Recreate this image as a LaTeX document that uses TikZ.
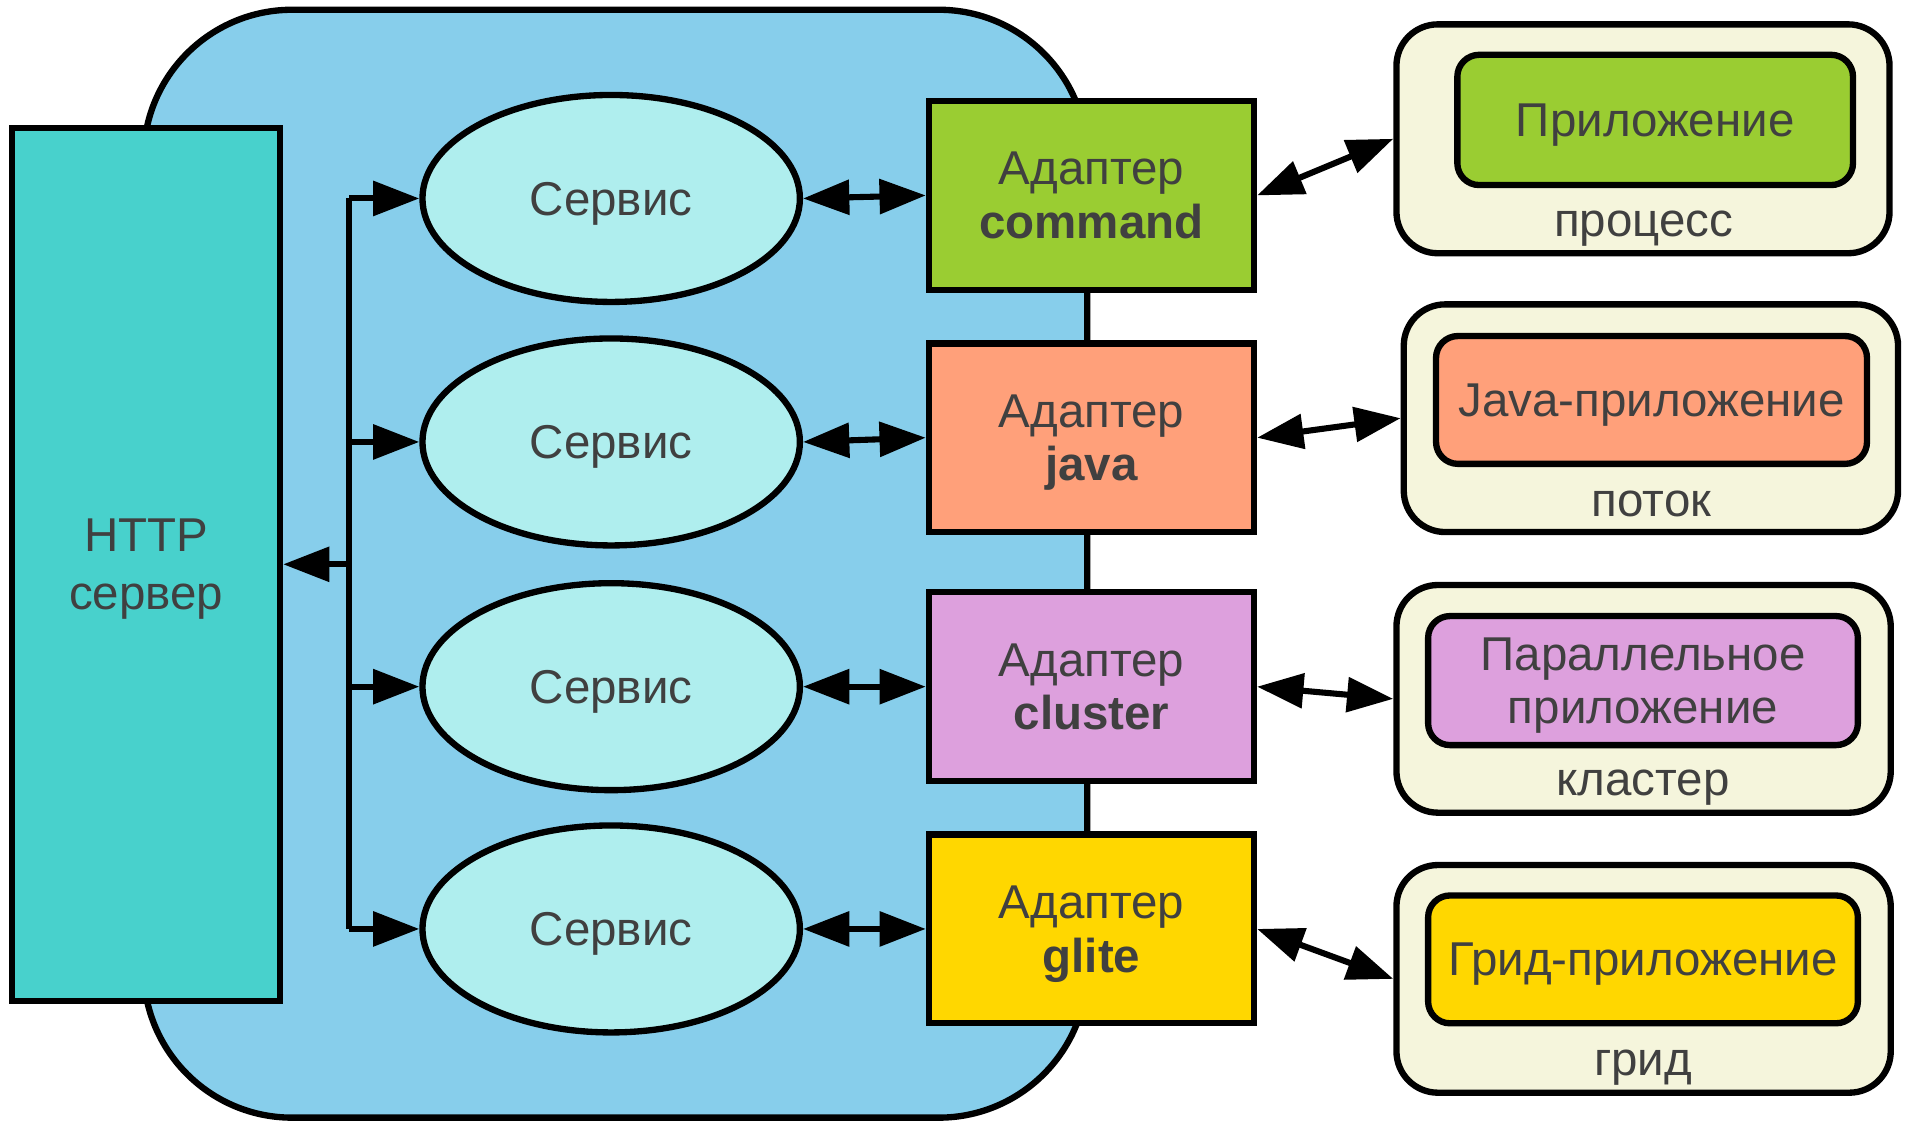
\documentclass[tikz,border=0pt]{standalone}
\usepackage{fontspec}
\setmainfont{Liberation Sans}
\usetikzlibrary{shapes.geometric,arrows.meta}
\definecolor{blobc}{HTML}{87CEEB}
\definecolor{httpc}{HTML}{48D1CC}
\definecolor{svcc}{HTML}{AFEEEE}
\definecolor{cmdc}{HTML}{9ACD32}
\definecolor{javac}{HTML}{FFA07A}
\definecolor{clusc}{HTML}{DDA0DD}
\definecolor{glitec}{HTML}{FFD700}
\definecolor{beigec}{HTML}{F5F5DC}
\definecolor{textc}{HTML}{404040}
\tikzset{
  txt/.style={text=textc, font=\fontsize{19.5pt}{22pt}\selectfont},
  outl/.style={draw=black, line width=2.6pt},
  box/.style={outl, rectangle, inner sep=0pt, txt, align=center, text depth=0pt},
  svc/.style={outl, ellipse, inner sep=0pt, minimum width=155pt, minimum height=85pt, fill=svcc, txt, text depth=0pt},
  adapter/.style={box, minimum width=133.5pt, minimum height=77.5pt},
  outerbox/.style={box, fill=beigec, rounded corners=17pt},
  innerbox/.style={box, rounded corners=9pt},
  lbl/.style={txt, inner sep=0pt, anchor=base},
  arr/.style={line width=2.5pt, -{Triangle[length=19pt,width=14pt]}},
  darr/.style={line width=2.5pt, {Triangle[length=19pt,width=14pt]}-{Triangle[length=19pt,width=14pt]}},
  bus/.style={line width=2.5pt},
}
\begin{document}
\begin{tikzpicture}[x=0.5pt,y=-0.5pt]
\useasboundingbox (0,0) rectangle (1568,922);
% container
\node[box, fill=blobc, rounded corners=61pt, minimum width=387.5pt, minimum height=455pt] (blob) at (505.5,463) {};
% HTTP server
\node[box, fill=httpc, minimum width=110pt, minimum height=358.5pt, align=center,
      font=\fontsize{19.5pt}{24pt}\selectfont] (http) at (120,463.5) {HTTP\\сервер};
% services
\node[svc] (svc1) at (502,163) {Сервис};
\node[svc] (svc2) at (502,363) {Сервис};
\node[svc] (svc3) at (502,564) {Сервис};
\node[svc] (svc4) at (502,763) {Сервис};
% adapters
\node[adapter, fill=cmdc]   (ad1) at (896.5,160.5) {Адаптер\\\textbf{command}};
\node[adapter, fill=javac]  (ad2) at (896.5,359.5) {Адаптер\\\textbf{java}};
\node[adapter, fill=clusc]  (ad3) at (896.5,564) {Адаптер\\\textbf{cluster}};
\node[adapter, fill=glitec] (ad4) at (896.5,763) {Адаптер\\\textbf{glite}};
% outer boxes
\node[outerbox, minimum width=202.5pt, minimum height=94pt] (ob1) at (1349.5,114) {};
\node[outerbox, minimum width=203pt, minimum height=93.5pt] (ob2) at (1356,343.5) {};
\node[outerbox, minimum width=203pt, minimum height=93.5pt] (ob3) at (1350,574) {};
\node[outerbox, minimum width=203pt, minimum height=93.5pt] (ob4) at (1350,804) {};
% inner boxes
\node[innerbox, fill=cmdc, minimum width=162.5pt, minimum height=53.5pt] (ib1) at (1359.5,98.5) {Приложение};
\node[innerbox, fill=javac, minimum width=177pt, minimum height=52.5pt] (ib2) at (1356.5,328.5) {Java-приложение};
\node[innerbox, fill=clusc, minimum width=176.5pt, minimum height=53pt] (ib3) at (1349.5,559) {Параллельное\\приложение};
\node[innerbox, fill=glitec, minimum width=176.5pt, minimum height=52.5pt] (ib4) at (1349.5,788) {Грид-приложение};
% labels
\node[lbl] (l1) at (1350,194) {процесс};
\node[lbl] (l2) at (1356.5,424) {поток};
\node[lbl] (l3) at (1349.5,653) {кластер};
\node[lbl] (l4) at (1349.5,883) {грид};
% bus
\coordinate (b1) at (287,163);
\coordinate (b2) at (287,363);
\coordinate (b3) at (287,564);
\coordinate (b4) at (287,763);
\coordinate (bm) at (287,463.5);
\draw[bus] (b1) -- (b4);
\draw[arr] (b1) -- (svc1.west);
\draw[arr] (b2) -- (svc2.west);
\draw[arr] (b3) -- (svc3.west);
\draw[arr] (b4) -- (svc4.west);
\draw[arr] (bm) -- (http.east);
% service - adapter
\draw[darr] (svc1.east) -- (ad1.west);
\draw[darr] (svc2.east) -- (ad2.west);
\draw[darr] (svc3.east) -- (ad3.west);
\draw[darr] (svc4.east) -- (ad4.west);
% adapter - environment
\draw[darr] (ad1.east) -- (ob1.west);
\draw[darr] (ad2.east) -- (ob2.west);
\draw[darr] (ad3.east) -- (ob3.west);
\draw[darr] (ad4.east) -- (ob4.west);
\end{tikzpicture}
\end{document}
